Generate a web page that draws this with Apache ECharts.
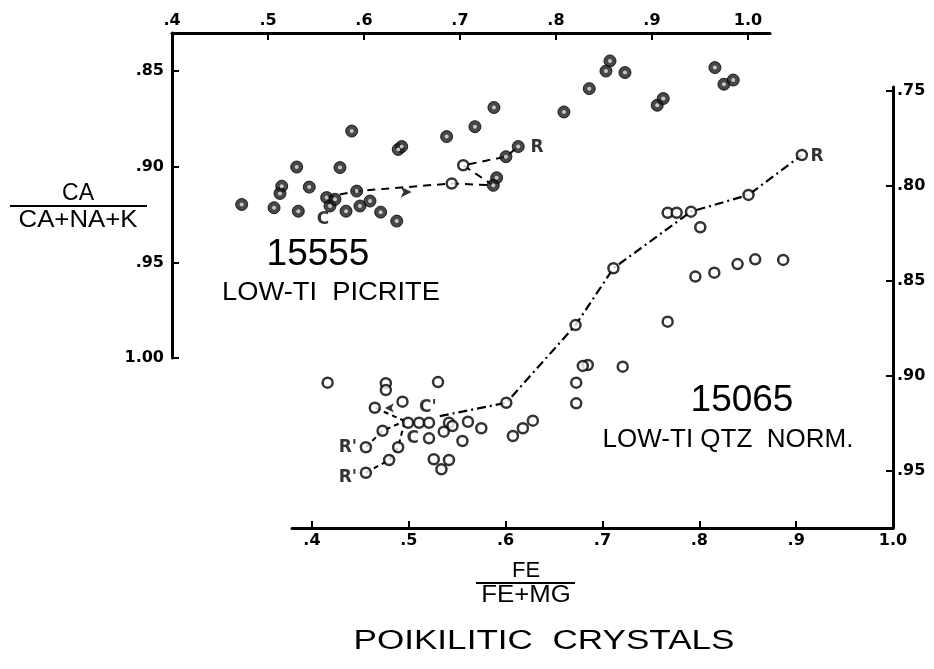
<!DOCTYPE html>
<html><head><meta charset="utf-8">
<script src="https://cdn.jsdelivr.net/npm/echarts@6/dist/echarts.min.js"></script>
<style>html,body{margin:0;padding:0;background:#fff}#c{width:934px;height:669px}</style>
</head><body><div id="c"></div>
<script>
// ---------- tick values & labels ----------
const xTicks = [0.4, 0.5, 0.6, 0.7, 0.8, 0.9, 1.0];
const xTickLabels = ['.4', '.5', '.6', '.7', '.8', '.9', '1.0'];
const topYTicks = [0.85, 0.90, 0.95, 1.00];
const topYTickLabels = ['.85', '.90', '.95', '1.00'];
const botYTicks = [0.75, 0.80, 0.85, 0.90, 0.95];
const botYTickLabels = ['.75', '.80', '.85', '.90', '.95'];

// ---------- 15555 LOW-TI PICRITE (top panel) ----------
const picriteFe = [.4726,.5063,.5143,.5125,.5299,.5316,.5430,.5872,.5750,.5611,.5646,.5698,.5813,.5924,.5958,.6063,.6174,.6341,.6357,.6393,.6861,.7156,.7354,.7382,.7347,.7479,.7607,.8083,.8347,.8521,.8563,.8719,.9055,.9118,.9656,.9750,.9847];
const picriteCa = [.9197,.9214,.9101,.9139,.9001,.9232,.9106,.8813,.9004,.9161,.9205,.9170,.9232,.9127,.9205,.9179,.9237,.9284,.8909,.8894,.8842,.8790,.8690,.9057,.9097,.8947,.8894,.8713,.8591,.8499,.8446,.8507,.8678,.8643,.8481,.8568,.8546];
const picriteOpenFe = [.6914, .7034];
const picriteOpenCa = [.9087, .8992];
const picritePathFe = [.5604, .5924, .6914, .7347, .7034, .7479, .7607];
const picritePathCa = [.9160, .9127, .9087, .9097, .8992, .8947, .8894];
const picriteArrowFe = [.6497];
const picriteArrowCa = [.9132];
const picriteNoteFe = [.7802, .5573];
const picriteNoteCa = [.8898, .9275];
const picriteNoteText = ['R', 'C'];

// ---------- 15065 LOW-TI QTZ NORM. (bottom panel) ----------
const normFe = [.4162,.4763,.4763,.5302,.4649,.4935,.4993,.5106,.5209,.5415,.5611,.5749,.5451,.5361,.5209,.5554,.4729,.4557,.4890,.4797,.4557,.5258,.5415,.5337,.6007,.6075,.6178,.6281,.6729,.6729,.6722,.7113,.6848,.6797,.7209,.7673,.7766,.7914,.8010,.7673,.7959,.8155,.8395,.8577,.8866,.8508,.9059];
const normCa = [.9035,.9038,.9074,.9032,.9167,.9135,.9246,.9246,.9246,.9246,.9241,.9275,.9263,.9293,.9328,.9342,.9288,.9375,.9375,.9442,.9509,.9438,.9442,.9491,.9141,.9316,.9275,.9235,.9035,.9144,.8732,.8433,.8942,.8947,.8951,.8141,.8141,.8135,.8217,.8714,.8477,.8456,.8411,.8386,.8389,.8047,.7837];
const normMainPathFe = [.5320, .6007, .6722, .7113, .7914, .8508, .9059];
const normMainPathCa = [.9211, .9141, .8732, .8433, .8135, .8047, .7837];
const normPathAFe = [.4959, .4649];
const normPathACa = [.9237, .9167];
const normPathBFe = [.4557, .4729, .4959];
const normPathBCa = [.9375, .9288, .9237];
const normPathCFe = [.4557, .4797, .4890, .4959];
const normPathCCa = [.9509, .9442, .9375, .9237];
const normArrowFe = [.4753];
const normArrowCa = [.9168];
const normNoteFe = [.9216, .5196, .5041, .4371, .4371];
const normNoteCa = [.7847, .9168, .9332, .9379, .9532];
const normNoteText = ['R', "C'", 'C', "R'", "R'"];

// ---------- helpers ----------
const zip = (a, b) => a.map((v, i) => [v, b[i]]);
const zip3 = (a, b, c) => a.map((v, i) => [v, b[i], c[i]]);
const fmt = (ticks, labels) => v => {
  for (let i = 0; i < ticks.length; i++) if (Math.abs(v - ticks[i]) < 1e-6) return labels[i];
  return '';
};
const INK = '#000';
const FONT = '"Liberation Sans", Arial, sans-serif';
const TICKFONT = '"DejaVu Sans", sans-serif';
const lbl = (ticks, labels, margin) => ({ customValues: ticks, formatter: fmt(ticks, labels), color: INK, fontSize: 16, fontWeight: 'bold', fontFamily: TICKFONT, margin });
const axisBase = (ticks, labels, extra) => Object.assign({
  type: 'value',
  splitLine: { show: false },
  axisLine: { show: true, onZero: false, lineStyle: { color: INK, width: 3 } },
  axisTick: { show: true, inside: true, length: 7, customValues: ticks, lineStyle: { color: INK, width: 2 } },
  minorTick: { show: false }
}, extra);

const chart = echarts.init(document.getElementById('c'), null, { renderer: 'canvas' });

const noteSeries = (xi, yi, data) => ({
  type: 'scatter', xAxisIndex: xi, yAxisIndex: yi, data, symbolSize: 1,
  itemStyle: { color: 'rgba(0,0,0,0)' }, z: 6,
  label: { show: true, position: 'inside', formatter: p => p.value[2], color: INK, fontSize: 17, fontWeight: 'bold', fontFamily: TICKFONT }
});

const option = {
  backgroundColor: '#fff',
  animation: false,
  grid: [
    { left: 172, right: 164, top: 33, bottom: 311 },
    { left: 292, right: 41, top: 87, bottom: 141 }
  ],
  xAxis: [
    axisBase(xTicks, xTickLabels, { gridIndex: 0, position: 'top', min: 0.4, max: 1.023, axisLabel: lbl(xTicks, xTickLabels, 4) }),
    axisBase(xTicks, xTickLabels, { gridIndex: 1, position: 'bottom', min: 0.3794, max: 1.0, axisLabel: lbl(xTicks, xTickLabels, 5) })
  ],
  yAxis: [
    axisBase(topYTicks, topYTickLabels, { gridIndex: 0, position: 'left', inverse: true, min: 0.83, max: 1.0, axisLabel: lbl(topYTicks, topYTickLabels, 8) }),
    axisBase(botYTicks, botYTickLabels, { gridIndex: 1, position: 'right', inverse: true, min: 0.7479, max: 0.98, axisLabel: lbl(botYTicks, botYTickLabels, 4) })
  ],
  series: [
    // top panel path
    { type: 'line', xAxisIndex: 0, yAxisIndex: 0, data: zip(picritePathFe, picritePathCa), showSymbol: false, z: 2,
      lineStyle: { color: INK, width: 2, type: [8, 6] } },
    { type: 'scatter', xAxisIndex: 0, yAxisIndex: 0, data: zip(picriteArrowFe, picriteArrowCa), symbol: 'arrow', symbolSize: [8, 11], symbolRotate: -90, z: 3,
      itemStyle: { color: INK } },
    { type: 'scatter', xAxisIndex: 0, yAxisIndex: 0, data: zip(picriteFe, picriteCa), symbol: 'circle', symbolSize: 12, z: 4,
      itemStyle: { color: '#1a1a1a', borderColor: '#000', borderWidth: 1 } },
    { type: 'scatter', xAxisIndex: 0, yAxisIndex: 0, data: zip(picriteFe, picriteCa), symbol: 'circle', symbolSize: 4, z: 5,
      itemStyle: { color: '#e8e8e8' }, silent: true },
    { type: 'scatter', xAxisIndex: 0, yAxisIndex: 0, data: zip(picriteOpenFe, picriteOpenCa), symbol: 'circle', symbolSize: 10, z: 4,
      itemStyle: { color: '#fff', borderColor: INK, borderWidth: 2.5 } },
    noteSeries(0, 0, zip3(picriteNoteFe, picriteNoteCa, picriteNoteText)),

    // bottom panel paths
    { type: 'line', xAxisIndex: 1, yAxisIndex: 1, data: zip(normMainPathFe, normMainPathCa), showSymbol: false, z: 2,
      lineStyle: { color: INK, width: 2.2, type: [9, 4, 2, 4] } },
    { type: 'line', xAxisIndex: 1, yAxisIndex: 1, data: zip(normPathAFe, normPathACa), showSymbol: false, z: 2,
      lineStyle: { color: INK, width: 2, type: [5, 4] } },
    { type: 'line', xAxisIndex: 1, yAxisIndex: 1, data: zip(normPathBFe, normPathBCa), showSymbol: false, z: 2,
      lineStyle: { color: INK, width: 2, type: [5, 4] } },
    { type: 'line', xAxisIndex: 1, yAxisIndex: 1, data: zip(normPathCFe, normPathCCa), showSymbol: false, z: 2,
      lineStyle: { color: INK, width: 2, type: [5, 4] } },
    { type: 'scatter', xAxisIndex: 1, yAxisIndex: 1, data: zip(normArrowFe, normArrowCa), symbol: 'arrow', symbolSize: [7, 9], symbolRotate: 90, z: 3,
      itemStyle: { color: INK } },
    { type: 'scatter', xAxisIndex: 1, yAxisIndex: 1, data: zip(normFe, normCa), symbol: 'circle', symbolSize: 10, z: 4,
      itemStyle: { color: '#fff', borderColor: INK, borderWidth: 2.5 } },
    noteSeries(1, 1, zip3(normNoteFe, normNoteCa, normNoteText))
  ],
  graphic: [
    // y-axis title (fraction)
    { type: 'text', x: 78, y: 194, style: { text: 'CA', font: '23px ' + FONT, fill: INK, align: 'center', verticalAlign: 'middle' } },
    { type: 'line', shape: { x1: 10, y1: 206, x2: 147, y2: 206 }, style: { stroke: INK, lineWidth: 2 } },
    { type: 'text', x: 78, y: 221, scaleX: 1.12, style: { text: 'CA+NA+K', font: '23px ' + FONT, fill: INK, align: 'center', verticalAlign: 'middle' } },
    // x-axis title (fraction)
    { type: 'text', x: 526, y: 571, style: { text: 'FE', font: '22px ' + FONT, fill: INK, align: 'center', verticalAlign: 'middle' } },
    { type: 'line', shape: { x1: 476, y1: 583, x2: 575, y2: 583 }, style: { stroke: INK, lineWidth: 2 } },
    { type: 'text', x: 526, y: 596, scaleX: 1.12, style: { text: 'FE+MG', font: '23px ' + FONT, fill: INK, align: 'center', verticalAlign: 'middle' } },
    // sample labels
    { type: 'text', x: 318, y: 255, style: { text: '15555', font: '300 37px ' + FONT, fill: INK, align: 'center', verticalAlign: 'middle' } },
    { type: 'text', x: 331, y: 293, scaleX: 1.05, style: { text: 'LOW-TI  PICRITE', font: '26px ' + FONT, fill: INK, align: 'center', verticalAlign: 'middle' } },
    { type: 'text', x: 742, y: 401, style: { text: '15065', font: '300 37px ' + FONT, fill: INK, align: 'center', verticalAlign: 'middle' } },
    { type: 'text', x: 728, y: 440, style: { text: 'LOW-TI QTZ  NORM.', font: '26px ' + FONT, fill: INK, align: 'center', verticalAlign: 'middle' } },
    // main title
    { type: 'text', x: 544, y: 642, scaleX: 1.3, style: { text: 'POIKILITIC  CRYSTALS', font: '27px ' + FONT, fill: INK, align: 'center', verticalAlign: 'middle' } }
  ]
};
chart.setOption(option);
</script>
</body></html>
